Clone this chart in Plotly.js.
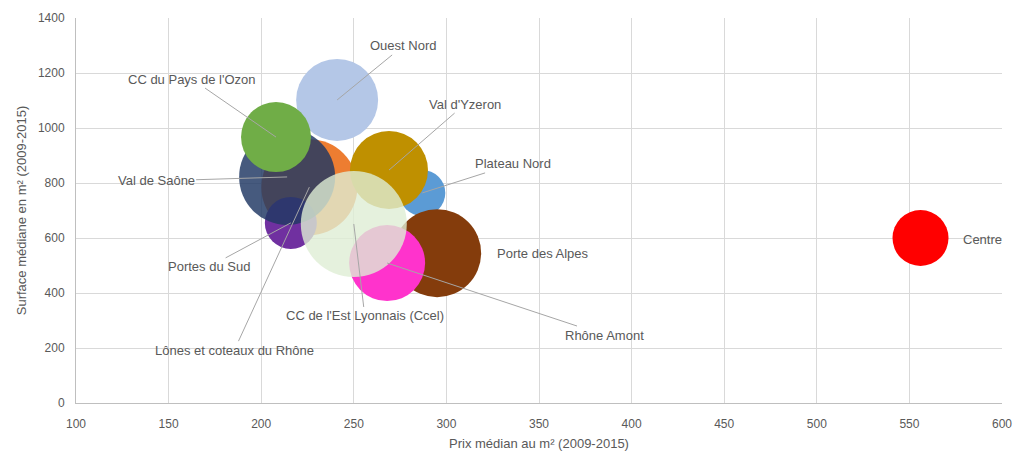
<!DOCTYPE html>
<html>
<head>
<meta charset="utf-8">
<script src="https://cdn.plot.ly/plotly-3.0.1.min.js"></script>
<style>
  html, body { margin: 0; padding: 0; background: #ffffff; }
  #chart { width: 1014px; height: 454px; }
</style>
</head>
<body>
<div id="chart"></div>
<script>
// Territoires (ordre de tracé : les derniers passent au premier plan)
const territoires = [
  "Plateau Nord",
  "Porte des Alpes",
  "Lônes et coteaux du Rhône",
  "Portes du Sud",
  "Val de Saône",
  "Ouest Nord",
  "CC du Pays de l'Ozon",
  "Val d'Yzeron",
  "Rhône Amont",
  "CC de l'Est Lyonnais (Ccel)",
  "Centre"
];

// Prix médian au m² (2009-2015)
const prixMedian = [287, 295, 226, 216, 214, 241, 208, 269, 268, 250, 556];

// Surface médiane en m² (2009-2015)
const surfaceMediane = [764, 545, 785, 655, 822, 1102, 967, 847, 509, 651, 600];

// Taille des bulles (proportionnelle à l'aire)
const tailleBulle = [132, 484, 576, 169, 576, 420, 306, 380, 361, 702, 196];

// Couleurs des bulles
const couleurs = [
  "#5B9BD5",
  "#843C0C",
  "#ED7D31",
  "#7030A0",
  "rgba(32,56,100,0.83)",
  "#B4C7E7",
  "#70AD47",
  "#BF9000",
  "#FF33CC",
  "rgba(222,237,212,0.8)",
  "#FF0000"
];

// Décalage des étiquettes (en pixels) par rapport au centre de chaque bulle
const decalageEtiquettes = {
  "Plateau Nord": [91, -29, true],
  "Porte des Alpes": [106, 0, false],
  "Lônes et coteaux du Rhône": [-75, 163, true],
  "Portes du Sud": [-82, 44, true],
  "Val de Saône": [-131, 4, true],
  "Ouest Nord": [66, -54, true],
  "CC du Pays de l'Ozon": [-84, -58, true],
  "Val d'Yzeron": [76, -66, true],
  "Rhône Amont": [217, 72, true],
  "CC de l'Est Lyonnais (Ccel)": [11, 92, true],
  "Centre": [62, 1, false]
};

const texteGris = "#595959";
const police = "Liberation Sans, Arial, sans-serif";

const trace = {
  type: "scatter",
  mode: "markers",
  x: prixMedian,
  y: surfaceMediane,
  text: territoires,
  hoverinfo: "text+x+y",
  marker: {
    size: tailleBulle,
    sizemode: "area",
    sizeref: 0.125,
    color: couleurs,
    opacity: 1,
    line: { width: 0 }
  },
  showlegend: false
};

const annotations = territoires.map((nom, i) => {
  const d = decalageEtiquettes[nom];
  return {
    x: prixMedian[i],
    y: surfaceMediane[i],
    xref: "x",
    yref: "y",
    text: nom,
    showarrow: true,
    arrowhead: 0,
    arrowwidth: 1,
    arrowcolor: d[2] ? "#A6A6A6" : "rgba(0,0,0,0)",
    standoff: 0,
    ax: d[0],
    ay: d[1],
    font: { family: police, size: 13, color: texteGris }
  };
});

const layout = {
  width: 1014,
  height: 454,
  margin: { l: 76, r: 12, t: 18, b: 51 },
  paper_bgcolor: "#ffffff",
  plot_bgcolor: "#ffffff",
  font: { family: police, size: 12, color: texteGris },
  xaxis: {
    range: [100, 600],
    dtick: 50,
    tick0: 100,
    showgrid: true,
    gridcolor: "#D9D9D9",
    gridwidth: 1,
    zeroline: false,
    showline: true,
    linecolor: "#BFBFBF",
    linewidth: 1,
    ticks: "",
    ticklabelstandoff: 10,
    tickfont: { family: police, size: 12, color: texteGris },
    title: {
      text: "Prix médian au m² (2009-2015)",
      font: { family: police, size: 13, color: texteGris },
      standoff: 8
    }
  },
  yaxis: {
    range: [0, 1400],
    dtick: 200,
    tick0: 0,
    showgrid: true,
    gridcolor: "#D9D9D9",
    gridwidth: 1,
    zeroline: false,
    showline: true,
    linecolor: "#BFBFBF",
    linewidth: 1,
    ticks: "",
    ticklabelstandoff: 8,
    tickfont: { family: police, size: 12, color: texteGris },
    title: {
      text: "Surface médiane en m² (2009-2015)",
      font: { family: police, size: 13, color: texteGris },
      standoff: 8
    }
  },
  annotations: annotations
};

Plotly.newPlot("chart", [trace], layout, { displayModeBar: false, staticPlot: true });
</script>
</body>
</html>
